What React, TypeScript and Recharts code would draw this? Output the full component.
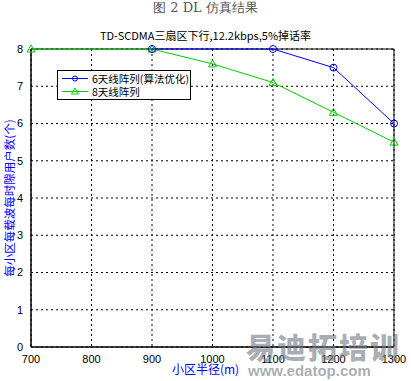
import { LineChart, Line, XAxis, YAxis, CartesianGrid, ReferenceArea } from "recharts";

const radius = [700, 800, 900, 1000, 1100, 1200, 1300];
const users6 = [null, null, 8, null, 8, 7.5, 6.0];
const users8 = [8, null, 8, 7.6, 7.1, 6.3, 5.5];
const yTicks = [0, 1, 2, 3, 4, 5, 6, 7, 8];

const data = radius.map((r, i) => ({ r, a6: users6[i], a8: users8[i] }));

const font = "'Liberation Sans', Arial, sans-serif";
const cjk = "'Noto Sans CJK SC', sans-serif";

function Triangle(props: any) {
  const { cx, cy, value } = props;
  if (value == null || cx == null) return null;
  return (
    <path
      d={`M${cx},${cy - 4} L${cx + 4},${cy + 3} L${cx - 4},${cy + 3} Z`}
      fill="none"
      stroke="#00cc00"
      strokeWidth={1}
    />
  );
}

function Circle(props: any) {
  const { cx, cy, value } = props;
  if (value == null || cx == null) return null;
  return <circle cx={cx} cy={cy} r={3.5} fill="none" stroke="#0000ff" strokeWidth={1} />;
}

function LegendBox() {
  return (
    <div
      style={{
        position: "absolute",
        left: 57,
        top: 70,
        border: "1px solid #000",
        background: "#fff",
        width: 134,
        height: 30,
        fontFamily: cjk,
        fontSize: 10.5,
        lineHeight: "13px",
        boxSizing: "border-box",
        paddingTop: 1,
        whiteSpace: "nowrap",
      }}
    >
      <div style={{ display: "flex", alignItems: "center" }}>
        <svg width={34} height={13}>
          <line x1={4} x2={30} y1={6.5} y2={6.5} stroke="#0000ff" />
          <circle cx={17} cy={6.5} r={2.5} fill="none" stroke="#0000ff" />
        </svg>
        <span>6天线阵列(算法优化)</span>
      </div>
      <div style={{ display: "flex", alignItems: "center" }}>
        <svg width={34} height={13}>
          <line x1={4} x2={30} y1={6.5} y2={6.5} stroke="#00cc00" />
          <path d="M17,3 L20.5,9 L13.5,9 Z" fill="none" stroke="#00cc00" />
        </svg>
        <span>8天线阵列</span>
      </div>
    </div>
  );
}

export default function App() {
  return (
    <div style={{ position: "absolute", left: 0, top: 0, width: 411, height: 381, background: "#fff" }}>
      <LineChart
        width={411}
        height={381}
        data={data}
        margin={{ top: 49, left: 6, right: 17, bottom: 14 }}
      >
        <CartesianGrid stroke="#000" strokeDasharray="2 3" />
        <XAxis
          dataKey="r"
          type="number"
          domain={[700, 1300]}
          ticks={radius}
          height={20}
          tickLine={false}
          axisLine={{ stroke: "#000" }}
          tick={{ fill: "#000", fontSize: 11, fontFamily: font }}
          tickMargin={2}
        />
        <YAxis
          type="number"
          domain={[0, 8]}
          ticks={yTicks}
          width={25}
          tickLine={false}
          axisLine={{ stroke: "#000" }}
          tick={{ fill: "#000", fontSize: 11, fontFamily: font }}
          tickMargin={2}
        />
        <ReferenceArea x1={700} x2={1300} y1={0} y2={8} fill="none" stroke="#000" strokeOpacity={1} />
        <Line
          dataKey="a8"
          stroke="#00cc00"
          strokeWidth={1}
          connectNulls
          dot={<Triangle />}
          isAnimationActive={false}
        />
        <Line
          dataKey="a6"
          stroke="#0000ff"
          strokeWidth={1}
          connectNulls
          dot={<Circle />}
          isAnimationActive={false}
        />
      </LineChart>
      <LegendBox />
      <div
        style={{
          position: "absolute",
          top: 0,
          left: 0,
          width: 411,
          textAlign: "center",
          fontFamily: "'DejaVu Serif', serif",
          fontSize: 13,
          color: "#555",
          lineHeight: "16px",
        }}
      >
        图 2 DL 仿真结果
      </div>
      <div
        style={{
          position: "absolute",
          top: 28,
          left: 0,
          width: 411,
          textAlign: "center",
          fontFamily: cjk,
          fontSize: 11,
          color: "#000",
          lineHeight: "14px",
        }}
      >
        TD-SCDMA三扇区下行,12.2kbps,5%掉话率
      </div>
      <div
        style={{
          position: "absolute",
          left: 9,
          top: 198,
          transform: "translate(-50%, -50%) rotate(-90deg)",
          whiteSpace: "nowrap",
          fontFamily: cjk,
          fontSize: 11.5,
          color: "#0000ff",
          lineHeight: "14px",
        }}
      >
        每小区每载波每时隙用户数(个)
      </div>
      <div
        style={{
          position: "absolute",
          top: 362,
          left: 0,
          width: 411,
          textAlign: "center",
          fontFamily: cjk,
          fontSize: 12,
          color: "#0000ff",
          lineHeight: "14px",
        }}
      >
        小区半径(m)
      </div>
      <div
        style={{
          position: "absolute",
          left: 246,
          top: 330,
          fontFamily: cjk,
          fontWeight: 900,
          fontSize: 29,
          letterSpacing: 2,
          color: "rgba(110,120,130,0.6)",
          lineHeight: "32px",
          whiteSpace: "nowrap",
        }}
      >
        易迪拓培训
      </div>
      <div
        style={{
          position: "absolute",
          left: 248,
          top: 363,
          fontFamily: font,
          fontWeight: 700,
          fontSize: 15,
          color: "rgba(110,120,130,0.6)",
          lineHeight: "16px",
          whiteSpace: "nowrap",
        }}
      >
        www.edatop.com
      </div>
    </div>
  );
}
